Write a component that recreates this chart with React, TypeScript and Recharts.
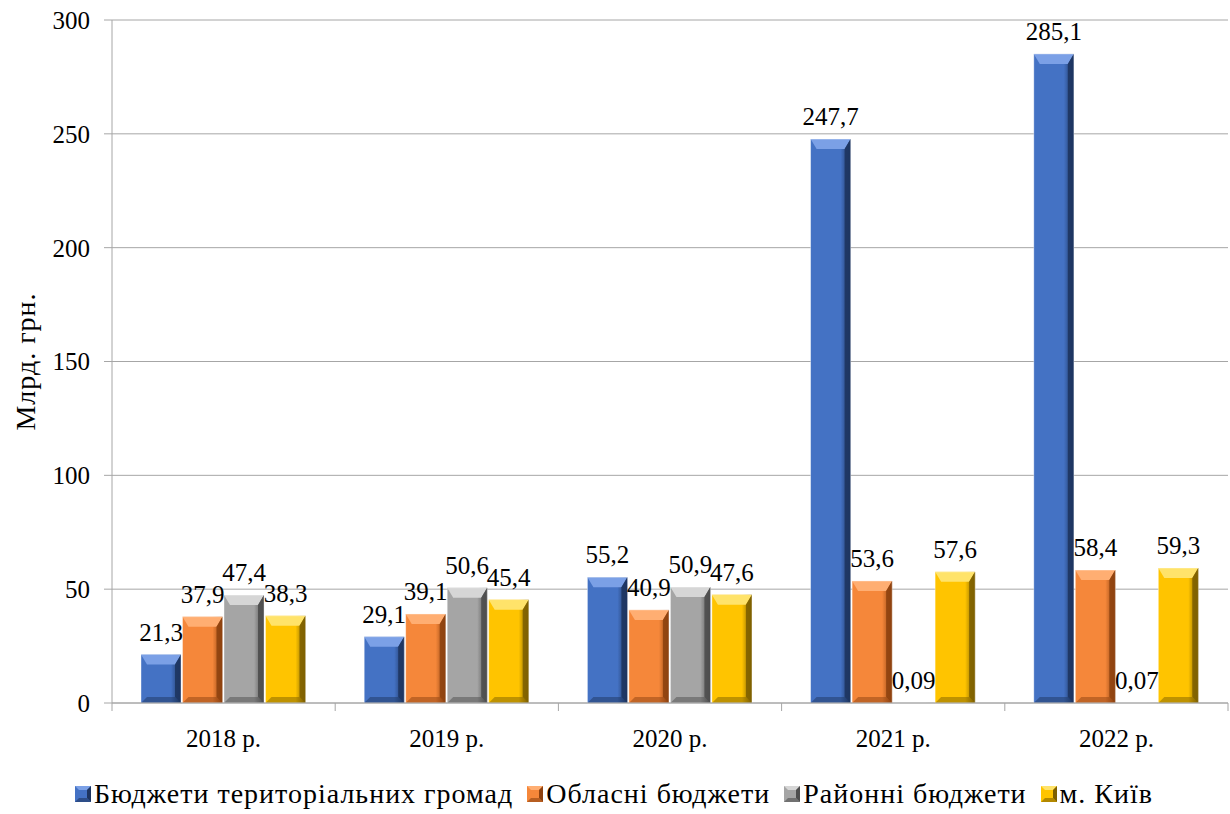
import React from 'react'
import { BarChart, Bar, XAxis, YAxis, CartesianGrid, Legend, LabelList } from 'recharts'

const categories = ['2018 р.', '2019 р.', '2020 р.', '2021 р.', '2022 р.']
const territorial = [21.3, 29.1, 55.2, 247.7, 285.1]
const oblast = [37.9, 39.1, 40.9, 53.6, 58.4]
const district = [47.4, 50.6, 50.9, 0.09, 0.07]
const kyiv = [38.3, 45.4, 47.6, 57.6, 59.3]
const yTicks = [0, 50, 100, 150, 200, 250, 300]

const seriesNames = ['Бюджети територіальних громад', 'Обласні бюджети', 'Районні бюджети', 'м. Київ']
const seriesKeys = ['territorial', 'oblast', 'district', 'kyiv']

const palette = [
  { base: '#4472C4', light: '#7BA0E6', dark: '#1E3560' },
  { base: '#F5873A', light: '#FFAE72', dark: '#8E4210' },
  { base: '#A5A5A5', light: '#D6D6D6', dark: '#4E4E4E' },
  { base: '#FFC400', light: '#FFE36A', dark: '#7E6000' },
]

const data = categories.map((name, i) => ({
  name,
  territorial: territorial[i],
  oblast: oblast[i],
  district: district[i],
  kyiv: kyiv[i],
}))

const W = 1230
const H = 814
const MARGIN = { top: 20, right: 2, left: 0, bottom: 0 }
const Y_WIDTH = 112
const BAND = (W - MARGIN.left - MARGIN.right - Y_WIDTH) / categories.length
const FONT = 'Liberation Serif, DejaVu Serif, Noto Serif, serif'
const GRID = '#A6A6A6'

const fmt = (v: number) => String(v).replace('.', ',')

function BevelBar(props: any) {
  const { x, y, width: w, height: h, c, idx } = props
  if (w == null || h == null || h <= 0) return null
  const bt = Math.min(10, h / 2)
  const bs = Math.min(6, w / 4, h / 2)
  const gid = `g${idx}`
  return (
    <g>
      <defs>
        <linearGradient id={gid} x1="0" y1="0" x2="1" y2="0">
          <stop offset="0" stopColor={c.base} />
          <stop offset="0.75" stopColor={c.base} />
          <stop offset="1" stopColor={c.dark} />
        </linearGradient>
      </defs>
      <rect x={x} y={y} width={w} height={h} fill={`url(#${gid})`} />
      <polygon points={`${x},${y} ${x + w},${y} ${x + w - bs},${y + bt} ${x + bs},${y + bt}`} fill={c.light} />
      <polygon points={`${x + w},${y} ${x + w},${y + h} ${x + w - bs},${y + h - bs} ${x + w - bs},${y + bt}`} fill={c.dark} opacity={0.9} />
      <polygon points={`${x},${y + h} ${x + w},${y + h} ${x + w - bs},${y + h - bs} ${x + bs},${y + h - bs}`} fill={c.dark} opacity={0.5} />
      <rect x={x} y={y} width={w} height={h} fill="none" stroke="rgba(255,255,255,0.45)" strokeWidth={0.8} />
    </g>
  )
}

function XTick(props: any) {
  const { x, y, payload, index } = props
  const y0 = y - 10
  const last = index === categories.length - 1
  return (
    <g>
      <line x1={x - BAND / 2} y1={y0} x2={x - BAND / 2} y2={y0 + 8} stroke={GRID} />
      {last && <line x1={x + BAND / 2} y1={y0} x2={x + BAND / 2} y2={y0 + 8} stroke={GRID} />}
      <text x={x} y={y0 + 44} textAnchor="middle" fontFamily={FONT} fontSize={25} fill="#000">
        {payload.value}
      </text>
    </g>
  )
}

function LegendIcon({ c }: { c: any }) {
  const s = 16
  const b = 4
  return (
    <svg width={s} height={s} style={{ marginRight: 3 }}>
      <rect x={0} y={0} width={s} height={s} fill={c.base} />
      <polygon points={`0,0 ${s},0 ${s - b},${b} ${b},${b}`} fill={c.light} />
      <polygon points={`${s},0 ${s},${s} ${s - b},${s - b} ${s - b},${b}`} fill={c.dark} />
      <polygon points={`0,${s} ${s},${s} ${s - b},${s - b} ${b},${s - b}`} fill={c.dark} opacity={0.6} />
    </svg>
  )
}

function LegendContent() {
  return (
    <div
      style={{
        display: 'flex',
        justifyContent: 'center',
        alignItems: 'center',
        height: 40,
        fontFamily: FONT,
        fontSize: 28,
        letterSpacing: 1,
        color: '#000',
        whiteSpace: 'nowrap',
      }}
    >
      {seriesNames.map((n, i) => (
        <span key={n} style={{ display: 'flex', alignItems: 'center', marginRight: i < seriesNames.length - 1 ? 14 : 0 }}>
          <LegendIcon c={palette[i]} />
          {n}
        </span>
      ))}
    </div>
  )
}

function YLabel(props: any) {
  const { viewBox } = props
  const cx = 25
  const cy = viewBox.y + viewBox.height / 2
  return (
    <text x={cx} y={cy} transform={`rotate(-90 ${cx} ${cy})`} textAnchor="middle" dominantBaseline="central" fontFamily={FONT} fontSize={28} letterSpacing={1} fill="#000">
      Млрд. грн.
    </text>
  )
}

export default function App() {
  return (
    <div style={{ position: 'absolute', left: 0, top: 0, width: W, height: H, background: '#fff', fontFamily: FONT }}>
      <BarChart width={W} height={H} data={data} margin={MARGIN} barCategoryGap="13%" barGap={1.5}>
        <CartesianGrid vertical={false} stroke={GRID} />
        <XAxis
          dataKey="name"
          axisLine={{ stroke: GRID }}
          tickLine={false}
          tickSize={8}
          tickMargin={2}
          height={71}
          interval={0}
          tick={<XTick />}
        />
        <YAxis
          width={Y_WIDTH}
          domain={[0, 300]}
          ticks={yTicks}
          axisLine={{ stroke: GRID }}
          tickLine={{ stroke: GRID }}
          tickSize={8}
          tickMargin={14}
          tick={{ fontFamily: FONT, fontSize: 25, fill: '#000' }}
          label={<YLabel />}
        />
        <Legend verticalAlign="bottom" content={<LegendContent />} wrapperStyle={{ height: 40 }} />
        {seriesKeys.map((k, i) => (
          <Bar
            key={k}
            dataKey={k}
            name={seriesNames[i]}
            fill={palette[i].base}
            isAnimationActive={false}
            shape={(p: any) => <BevelBar {...p} c={palette[i]} idx={`${k}${p.index}`} />}
          >
            <LabelList
              dataKey={k}
              position="top"
              offset={14}
              formatter={(v: any) => fmt(Number(v))}
              style={{ fontFamily: FONT, fontSize: 25, fill: '#000' }}
            />
          </Bar>
        ))}
      </BarChart>
    </div>
  )
}
